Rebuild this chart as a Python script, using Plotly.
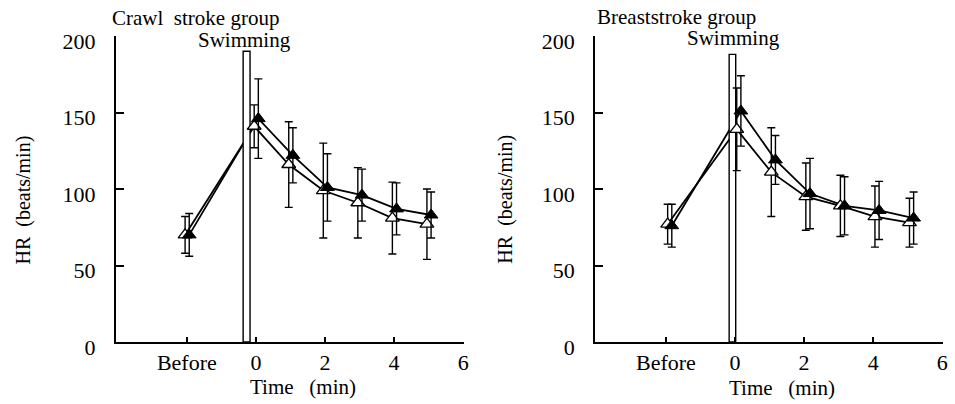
import plotly.graph_objects as go

# ---- data ----
TIME = [-2, 0, 1, 2, 3, 4, 5]            # -2 is the "Before" position
TICK_VALS = [-2, 0, 2, 4, 6]
TICK_TEXT = ["Before", "0", "2", "4", "6"]
Y_TICKS = [0, 50, 100, 150, 200]

crawl_filled_mean = [70, 146, 122, 101, 96, 87, 83]
crawl_filled_sd = [14, 26, 18, 22, 17, 17, 15]
crawl_open_mean = [70, 141, 116, 99, 91, 81, 77]
crawl_open_sd = [12, 14, 28, 31, 23, 23.5, 23]

breast_filled_mean = [76, 151, 119, 97, 89, 86, 81]
breast_filled_sd = [14, 23, 16, 23, 19, 19, 17]
breast_open_mean = [77, 139, 111, 95, 89, 82, 78]
breast_open_sd = [13, 27, 29, 22, 20, 20, 16]

# swimming period bar: (start, end, height)
crawl_swim = (-0.37, -0.17, 190)
breast_swim = (-0.17, 0.02, 188)

panels = [
    dict(name="Crawl\u00a0\u00a0stroke group", filled=(crawl_filled_mean, crawl_filled_sd),
         open=(crawl_open_mean, crawl_open_sd), swim=crawl_swim,
         dodge_open=-0.05, dodge_filled=0.07, xa="x", ya="y"),
    dict(name="Breaststroke group", filled=(breast_filled_mean, breast_filled_sd),
         open=(breast_open_mean, breast_open_sd), swim=breast_swim,
         dodge_open=0.05, dodge_filled=0.17, xa="x2", ya="y2"),
]

fig = go.Figure()
for p in panels:
    xo = [t + p["dodge_open"] for t in TIME]
    xf = [t + p["dodge_filled"] for t in TIME]
    # connecting lines (drawn first, the swimming bar covers them)
    for xs, (m, s) in ((xo, p["open"]), (xf, p["filled"])):
        fig.add_trace(go.Scatter(x=xs, y=m, mode="lines", xaxis=p["xa"], yaxis=p["ya"],
                                 line=dict(color="black", width=1.8), hoverinfo="skip"))
    s0, s1, h = p["swim"]
    fig.add_trace(go.Scatter(x=[s0, s1, s1, s0, s0], y=[0, 0, h, h, 0], mode="lines",
                             fill="toself", fillcolor="white", xaxis=p["xa"], yaxis=p["ya"],
                             line=dict(color="black", width=1.4), hoverinfo="skip"))
    # markers with SD error bars
    m, s = p["open"]
    fig.add_trace(go.Scatter(x=xo, y=m, mode="markers", xaxis=p["xa"], yaxis=p["ya"],
                             error_y=dict(type="data", array=s, visible=True, color="black",
                                          thickness=1.4, width=4),
                             marker=dict(symbol="triangle-up", size=12, color="white",
                                         line=dict(color="black", width=1.3))))
    m, s = p["filled"]
    fig.add_trace(go.Scatter(x=xf, y=m, mode="markers", xaxis=p["xa"], yaxis=p["ya"],
                             error_y=dict(type="data", array=s, visible=True, color="black",
                                          thickness=1.4, width=4),
                             marker=dict(symbol="triangle-up", size=12, color="black",
                                         line=dict(color="black", width=1))))

TICK_FONT = dict(family="Liberation Serif", size=22, color="black")
axis_common = dict(showline=True, linewidth=2, linecolor="black", showgrid=False,
                   zeroline=False, ticks="inside", tickwidth=2, tickcolor="black",
                   tickfont=TICK_FONT, ticklabeloverflow="allow")
xcommon = dict(axis_common, range=[-4.05, 6.02], tickmode="array", tickvals=TICK_VALS,
               ticktext=TICK_TEXT, ticklen=5)
ycommon = dict(axis_common, range=[0, 200], tickmode="array", tickvals=Y_TICKS, ticklen=8,
               ticklabelstandoff=14, ticklabelshift=5)

L, R, T, B = 116, 7, 36, 62
W, H = 955, 404
PW, PH = W - L - R, H - T - B

def px(x):
    return (x - L) / PW

def py(y):
    return (H - B - y) / PH

fig.update_layout(
    width=W, height=H, margin=dict(l=L, r=R, t=T, b=B),
    plot_bgcolor="white", paper_bgcolor="white", showlegend=False,
    font=dict(family="Liberation Serif", size=21, color="black"),
    xaxis=dict(xcommon, domain=[0, px(466)], anchor="y"),
    yaxis=dict(ycommon, anchor="x"),
    xaxis2=dict(xcommon, domain=[px(598), 1.0], anchor="y2"),
    yaxis2=dict(ycommon, anchor="x2"),
)

def ann(text, x, y, xanchor="center", angle=0, size=21):
    fig.add_annotation(text=text, xref="paper", yref="paper", x=px(x), y=py(y),
                       xanchor=xanchor, yanchor="middle", showarrow=False, textangle=angle,
                       font=dict(family="Liberation Serif", size=size, color="black"))

ann(panels[0]["name"], 110, 18, xanchor="left")
ann("Swimming", 245, 40)
ann(panels[1]["name"], 598, 17, xanchor="left")
ann("Swimming", 737, 38)
ann("Time\u00a0\u00a0\u00a0(min)", 304, 387)
ann("Time\u00a0\u00a0\u00a0(min)", 786, 388)
ann("HR\u00a0\u00a0(beats/min)", 22, 200, angle=-90, size=20)
ann("HR\u00a0\u00a0(beats/min)", 507, 199, angle=-90, size=20)

fig.write_html("out.html", config={"displayModeBar": False},
               post_script="document.body.style.margin='0px';")
